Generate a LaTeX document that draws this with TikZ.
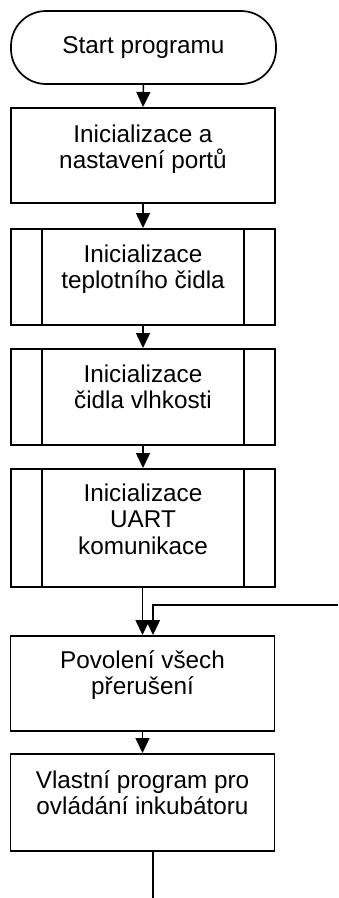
\documentclass[tikz,border=0pt]{standalone}
\usepackage{fontspec}
\setmainfont{Liberation Sans}
\usetikzlibrary{arrows.meta}
\begin{document}
\begin{tikzpicture}[x=1pt,y=-1pt,
  every node/.style={font=\fontsize{24.3}{26.6}\selectfont},
  box/.style={draw, line width=1.7pt, minimum width=264pt, inner sep=0pt, anchor=north},
  term/.style={draw, line width=1.7pt, rounded corners=35pt, minimum width=265pt, minimum height=73pt, inner sep=0pt},
  txt/.style={align=center, inner sep=0pt, anchor=north},
  arr/.style={line width=1.5pt, -{Triangle[width=14pt,length=15pt]}},
  conn/.style={line width=1.5pt},
  sub/.style={line width=1.7pt}
]
\path[use as bounding box] (0,0) rectangle (338,898);

\node[term] (start) at (143.5,47.5) {Start programu};

\node[box, minimum height=95pt] (b1) at (143,107) {};
\node[txt] (t1) at (143,118) {\rule{0pt}{24pt}Inicializace a\\nastavení portů};

\node[box, minimum height=96pt] (b2) at (143,228) {};
\node[txt] (t2) at (143,238) {\rule{0pt}{24pt}Inicializace\\teplotního čidla};

\node[box, minimum height=96pt] (b3) at (143,348) {};
\node[txt] (t3) at (143,358) {\rule{0pt}{24pt}Inicializace\\čidla vlhkosti};

\node[box, minimum height=118pt] (b4) at (143,468) {};
\node[txt] (t4) at (143,477) {\rule{0pt}{24pt}Inicializace\\UART\\komunikace};

\node[box, minimum height=95pt] (b5) at (142.5,635) {};
\node[txt] (t5) at (142.5,644) {\rule{0pt}{24pt}Povolení všech\\přerušení};

\node[box, minimum height=97pt] (b6) at (142.5,753) {};
\node[txt] (t6) at (142.5,764) {\rule{0pt}{24pt}Vlastní program pro\\ovládání inkubátoru};

% subroutine side bars
\foreach \b in {b2,b3,b4}{
  \draw[sub] ([xshift=32pt]\b.north west) -- ([xshift=32pt]\b.south west);
  \draw[sub] ([xshift=-32pt]\b.north east) -- ([xshift=-32pt]\b.south east);
}

% connectors
\draw[arr] (start.south) -- (b1.north);
\draw[arr] (b1.south) -- (b2.north);
\draw[arr] (b2.south) -- (b3.north);
\draw[arr] (b3.south) -- (b4.north);
\draw[arr] (b4.south -| b5.north) -- (b5.north);
\draw[arr] (b5.south) -- (b6.north);

\coordinate (loopin) at (338,605);
\draw[arr] (loopin) -| ([xshift=10.5pt]b5.north);

\coordinate (progend) at (153,898);
\draw[conn] ([xshift=10.5pt]b6.south) -- (progend);
\end{tikzpicture}
\end{document}
